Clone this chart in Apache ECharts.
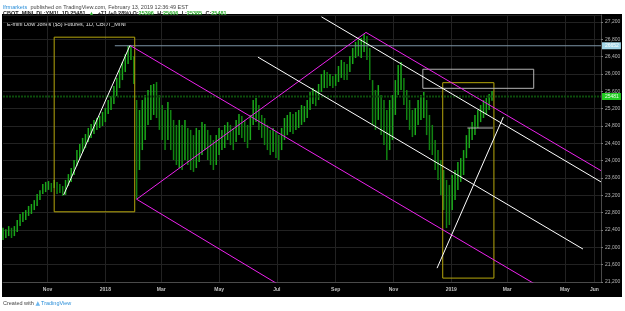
<!DOCTYPE html>
<html>
<head>
<meta charset="utf-8">
<script src="https://cdn.jsdelivr.net/npm/echarts@6/dist/echarts.min.js"></script>
<style>
  html, body { margin: 0; padding: 0; background: #fff; }
  #wrap { position: relative; width: 625px; height: 311px; overflow: hidden; }
  #panel { position: absolute; left: 2px; top: 14px; width: 620px; height: 283px; background: #000; }
  #chart { position: absolute; left: 0; top: 0; width: 625px; height: 311px; }
</style>
</head>
<body>
<div id="wrap">
  <div id="panel"></div>
  <div id="chart"></div>
</div>
<script>
// time axis: every calendar day shown on the chart
const axisFirstDay = '2017-09-15'
const axisLastDay = '2019-06-08'
const tickDates = ['2017-11-01', '2018-01-01', '2018-03-01', '2018-05-01', '2018-07-01', '2018-09-01',
  '2018-11-01', '2019-01-01', '2019-03-01', '2019-05-01', '2019-06-01']
const tickLabels = ['Nov', '2018', 'Mar', 'May', 'Jul', 'Sep', 'Nov', '2019', 'Mar', 'May', 'Jun']

// price bars, one every 3 days starting at axisFirstDay
const barStepDays = 3
const barHighs = [
  22450, 22420, 22490, 22450, 22490, 22630, 22770, 22815, 22860, 22955,
  23000, 23090, 23230, 23320, 23460, 23510, 23530, 23485, 23555, 23510,
  23460, 23415, 23555, 23690, 23830, 24015, 24245, 24385, 24525, 24615,
  24755, 24845, 24940, 24985, 25030, 25125, 25215, 25400, 25490, 25725,
  25910, 26090, 26275, 26460, 26645, 26660, 26415, 25400, 25170, 25400,
  25515, 25630, 25745, 25770, 25815, 25515, 25285, 25170, 25355, 25170,
  24940, 24825, 24940, 24825, 24940, 24755, 24710, 24590, 24755, 24710,
  24890, 24845, 24710, 24590, 24475, 24590, 24755, 24710, 24825, 24890,
  24825, 24755, 24940, 25075, 25030, 24940, 24825, 25055, 25400, 25445,
  25285, 25055, 24985, 24825, 24710, 24755, 24660, 24590, 24755, 24985,
  25055, 25125, 25075, 25125, 25170, 25285, 25260, 25400, 25585, 25675,
  25630, 25770, 26000, 26090, 26045, 26000, 25955, 26000, 26185, 26325,
  26275, 26230, 26415, 26600, 26740, 26785, 26830, 26925, 26875, 26600,
  25860, 25630, 25745, 25515, 25400, 25170, 25400, 25515, 25860, 26210,
  26275, 25910, 25630, 25400, 25170, 25215, 25400, 25515, 25585, 25400,
  25055, 24825, 24475, 24245, 24015, 23785, 23555, 23440, 23670, 23785,
  23970, 24060, 24245, 24590, 24755, 24890, 25055, 25170, 25285, 25400,
  25445, 25540, 25606
]
const barLows = [
  22170, 22215, 22260, 22215, 22260, 22355, 22490, 22585, 22630, 22725,
  22770, 22860, 22955, 23090, 23230, 23275, 23325, 23275, 23370, 23230,
  23255, 23185, 23210, 23415, 23510, 23670, 23875, 24060, 24200, 24290,
  24430, 24525, 24615, 24710, 24755, 24800, 24890, 25075, 25170, 25310,
  25490, 25675, 25860, 26045, 26230, 26325, 25770, 23110, 23785, 24245,
  24475, 24825, 24940, 25055, 24985, 24710, 24475, 24245, 24475, 24245,
  24015, 23900, 23830, 23785, 24015, 23900, 23785, 23740, 23830, 23970,
  24130, 24245, 24015, 23900, 23785, 23900, 24130, 24245, 24290, 24475,
  24360, 24245, 24430, 24590, 24525, 24430, 24290, 24475, 24825, 24890,
  24710, 24525, 24360, 24245, 24130, 24200, 24060, 24015, 24245, 24475,
  24590, 24660, 24615, 24710, 24755, 24825, 24890, 24985, 25170, 25310,
  25260, 25400, 25585, 25675, 25675, 25725, 25675, 25725, 25815, 25910,
  25860, 25860, 26045, 26230, 26370, 26415, 26370, 26510, 26325, 25860,
  24825, 24710, 24940, 24590, 24360, 24015, 24245, 24475, 25055, 25515,
  25630, 25285, 24940, 24710, 24545, 24590, 24825, 24940, 24985, 24590,
  24245, 24130, 23785, 23555, 23210, 22860, 22445, 22515, 22860, 23090,
  23325, 23510, 23670, 24060, 24290, 24475, 24590, 24755, 24890, 24985,
  25055, 25170, 25385
]

// hand drawn tools, [date, price] end points
const magentaLines = [
  [['2018-01-27', 26660], ['2019-04-01', 21130]],
  [['2018-02-03', 23110], ['2018-07-02', 21150]],
  [['2018-02-03', 23110], ['2018-10-03', 26960]],
  [['2018-10-03', 26960], ['2019-06-08', 23770]]
]
const whiteLines = [
  [['2017-11-18', 23210], ['2018-01-27', 26660]],
  [['2018-12-17', 21520], ['2019-02-25', 25010]],
  [['2018-08-17', 27320], ['2019-06-08', 23510]],
  [['2018-06-11', 26390], ['2019-05-20', 21960]]
]
const yellowBoxes = [
  [['2017-11-08', 26850], ['2018-02-01', 22820]],
  [['2018-12-23', 25800], ['2019-02-15', 21290]]
]
const greyBox = [['2018-12-02', 26110], ['2019-03-29', 25670]]
const shortLevel = [['2019-01-18', 24754], ['2019-02-14', 24754]]
const peakLevel = 26652
const peakLevelFrom = '2018-01-11'
const lastPrice = 25481

// ---- build the category axis
const days = []
for (let t = Date.parse(axisFirstDay); t <= Date.parse(axisLastDay); t += 86400000) {
  days.push(new Date(t).toISOString().slice(0, 10))
}
const dayIndex = {}
days.forEach((d, i) => { dayIndex[d] = i })
const tickMap = {}
tickDates.forEach((d, i) => { tickMap[d] = tickLabels[i] })
const isTick = (i, v) => tickMap[v] !== undefined

const at = (p) => [dayIndex[p[0]], p[1]]

const bars = barHighs.map((h, k) => [k * barStepDays, barLows[k], h])

function lineSeries(points, color, extra) {
  return Object.assign({
    type: 'line',
    data: points.map(at),
    symbol: 'none',
    silent: true,
    z: 4,
    lineStyle: { color: color, width: 1 }
  }, extra || {})
}

function boxPoints(b) {
  const [a, c] = b
  return [[a[0], a[1]], [c[0], a[1]], [c[0], c[1]], [a[0], c[1]], [a[0], a[1]]]
}

const font = 'Liberation Sans'

const series = [
  {
    type: 'custom',
    z: 2,
    silent: true,
    data: bars,
    encode: { x: 0, y: [1, 2] },
    renderItem: (params, api) => {
      const x = api.value(0)
      const lo = api.coord([x, api.value(1)])
      const hi = api.coord([x, api.value(2)])
      const i = params.dataIndex
      const up = i === 0 || barHighs[i] + barLows[i] >= barHighs[i - 1] + barLows[i - 1]
      return {
        type: 'line',
        shape: { x1: lo[0], y1: lo[1], x2: hi[0], y2: hi[1] },
        style: { stroke: up ? '#1aa81a' : '#118411', lineWidth: 1.5 }
      }
    }
  },
  lineSeries([[axisFirstDay, lastPrice], [axisLastDay, lastPrice]], '#0b4a0b', {
    z: 3,
    lineStyle: { color: '#0c4d0c', width: 2, type: [2, 1] },
    endLabel: {
      show: true, formatter: String(lastPrice), distance: 1,
      backgroundColor: '#22cc22', color: '#eaffea', fontSize: 5,
      fontFamily: font, padding: [1, 2, 1, 3]
    }
  }),
  lineSeries([[peakLevelFrom, peakLevel], [axisLastDay, peakLevel]], '#7d95a6', {
    endLabel: {
      show: true, formatter: String(peakLevel), distance: 1,
      backgroundColor: '#a3d6e8', color: '#ffffff', fontSize: 5,
      fontFamily: font, padding: [1, 2, 1, 3]
    }
  }),
  ...yellowBoxes.map(b => lineSeries(boxPoints(b), '#b5a60c')),
  lineSeries(boxPoints(greyBox), '#b4b4b4'),
  lineSeries(shortLevel, '#b8b8b8'),
  ...magentaLines.map(l => lineSeries(l, '#ee22ee')),
  ...whiteLines.map(l => lineSeries(l, '#ffffff'))
]

const chart = echarts.init(document.getElementById('chart'))
chart.setOption({
  animation: false,
  backgroundColor: 'transparent',
  grid: { left: 3, right: 24, top: 15, bottom: 29 },
  xAxis: {
    type: 'category',
    data: days,
    boundaryGap: false,
    axisLine: { lineStyle: { color: '#4a4a4a' } },
    axisTick: { show: false },
    axisLabel: {
      interval: isTick,
      formatter: v => tickMap[v],
      color: '#c0c0c0', fontSize: 5, fontWeight: 'bold',
      fontFamily: font, margin: 5
    },
    splitLine: { show: true, interval: isTick, lineStyle: { color: '#222' } }
  },
  yAxis: {
    type: 'value',
    position: 'right',
    min: 21200,
    max: 27362,
    interval: 400,
    axisLine: { show: true, lineStyle: { color: '#4a4a4a' } },
    axisTick: { show: true, length: 2, lineStyle: { color: '#777' } },
    axisLabel: {
      color: '#b8b8b8', fontSize: 5, margin: 4, showMaxLabel: false,
      fontFamily: font
    },
    splitLine: { lineStyle: { color: '#222' } }
  },
  graphic: [
    {
      type: 'text', left: 3, top: 1,
      style: {
        text: '{u|lfrmarkets} {t|published on TradingView.com, February 13, 2019 12:36:49 EST}',
        rich: {
          u: { fill: '#2b8fd9', fontSize: 5.5, lineHeight: 6, fontFamily: font },
          t: { fill: '#444', fontSize: 5.5, lineHeight: 6, fontFamily: font }
        }
      }
    },
    {
      type: 'text', left: 3, top: 7,
      style: {
        text: '{b|CBOT_MINI_DL:YM1!, 1D 25481} {g|▲} {b|+71 (+0.28%) O:}{g|25396} {b|H:}{g|25606} {b|L:}{g|25385} {b|C:}{g|25481}',
        rich: {
          b: { fill: '#222', fontSize: 5.5, lineHeight: 6, fontWeight: 'bold', fontFamily: font },
          g: { fill: '#2fae2f', fontSize: 5.5, lineHeight: 6, fontWeight: 'bold', fontFamily: font }
        }
      }
    },
    {
      type: 'text', left: 7, top: 21,
      style: {
        text: 'E-mini Dow Jones ($5) Futures, 1D, CBOT_MINI',
        fill: '#e0e0e0', fontSize: 5.5, fontFamily: font
      }
    },
    {
      type: 'text', left: 3, top: 300,
      style: {
        text: '{t|Created with }{l|▲}{u|TradingView}',
        rich: {
          t: { fill: '#444', fontSize: 5.5, fontFamily: font },
          l: { fill: '#6cb6ee', fontSize: 6, fontFamily: 'DejaVu Sans', padding: [0, 1, 0, 0] },
          u: { fill: '#2b8fd9', fontSize: 5.5, fontFamily: font }
        }
      }
    }
  ],
  series: series
})
</script>
</body>
</html>
